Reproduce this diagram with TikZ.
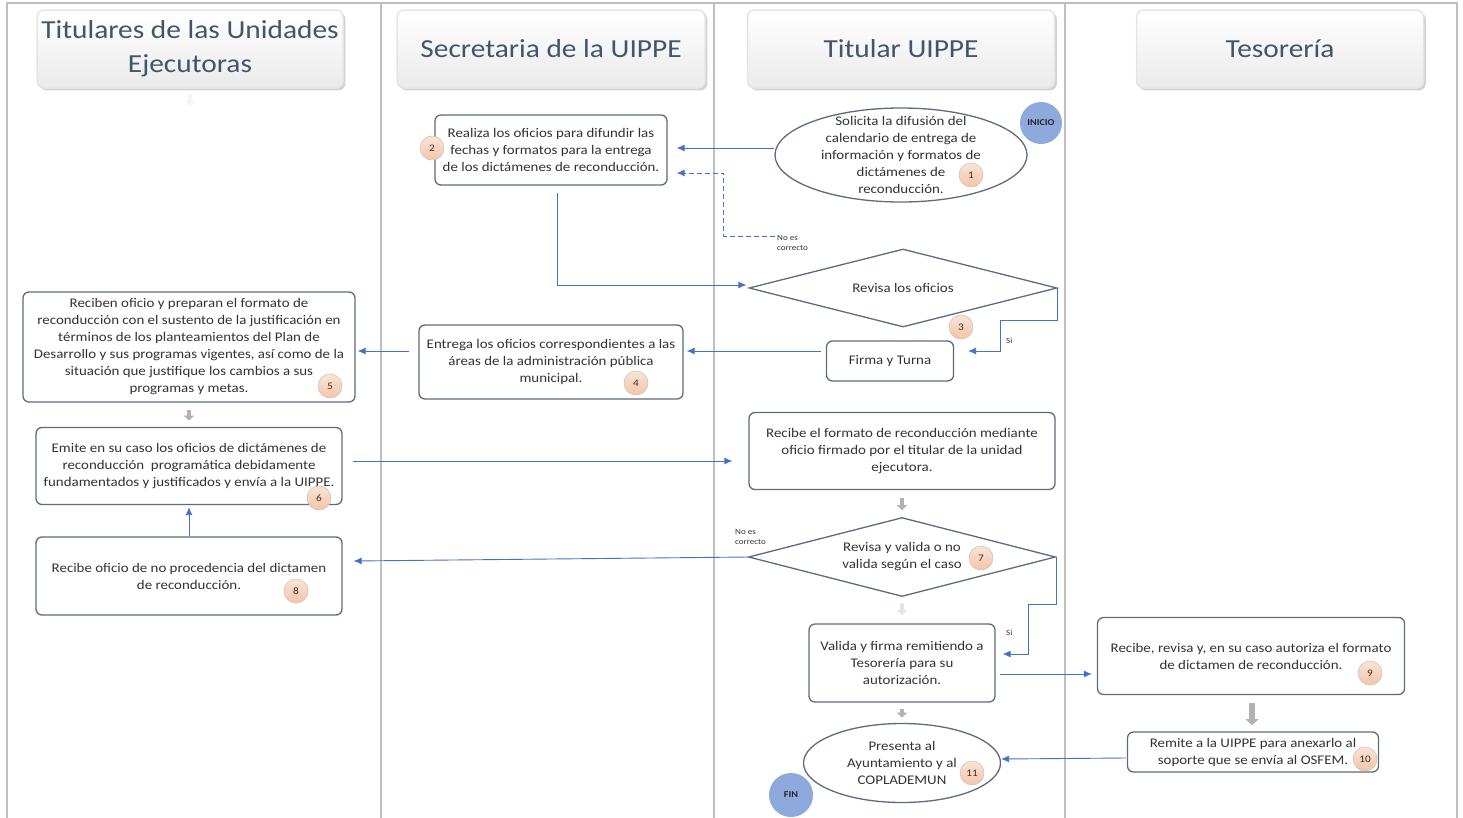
\documentclass[tikz,border=0pt]{standalone}
\usepackage{fontspec}
\setmainfont{Carlito}[FakeStretch=1.13]
\usetikzlibrary{shapes.geometric,arrows.meta,shadows}

\definecolor{flowblue}{HTML}{4472C4}
\definecolor{boxline}{HTML}{5F6B7C}
\definecolor{headtext}{HTML}{44546A}
\definecolor{bodytext}{HTML}{333333}
\definecolor{numfill}{HTML}{F6C3A6}
\definecolor{startfill}{HTML}{8EA9DB}
\definecolor{lanegray}{HTML}{BFBFBF}

\tikzset{
  lanehead/.style={draw=gray!20, line width=1.5pt, rounded corners=7pt, top color=white, bottom color=gray!16,
    text=headtext, font=\fontsize{26}{34}\selectfont, align=center, drop shadow={opacity=0.35}},
  stepbox/.style={draw=boxline, line width=1.3pt, rounded corners=6pt, fill=white, text=bodytext,
    font=\fontsize{13.2}{17}\selectfont, align=center, inner sep=1pt},
  steptext/.style={text=bodytext, font=\fontsize{13.2}{17}\selectfont, align=center, inner sep=0pt},
  decision/.style={diamond, draw=boxline, line width=1.3pt, fill=white, aspect=4, inner sep=0pt, text=bodytext,
    font=\fontsize{13.2}{17}\selectfont, align=center},
  endpoint/.style={ellipse, draw=boxline, line width=1.3pt, fill=white, inner sep=0pt},
  stepnum/.style={circle, minimum size=24pt, inner sep=0pt, draw=gray!45, line width=0.6pt,
    top color=numfill!45!white, bottom color=numfill, text=black!80, font=\fontsize{10}{10}\selectfont},
  terminal/.style={circle, fill=startfill, inner sep=0pt, text=black!85, font=\fontsize{9}{9}\selectfont\bfseries},
  flow/.style={flowblue, line width=0.9pt, -{Latex[length=8pt,width=7pt]}},
  flowdash/.style={flow, dash pattern=on 5pt off 3pt},
  tinylabel/.style={text=black!80, font=\fontsize{8}{10}\selectfont, align=left, inner sep=0pt},
  grayarrow/.style={line width=4pt, -{Triangle[length=5pt,width=10pt]}}
}

\begin{document}
\begin{tikzpicture}[x=1pt,y=-1pt]
\useasboundingbox[fill=white] (0,0) rectangle (1463,817);

\draw[lanegray, line width=2pt] (7,830) -- (7,3) -- (1457,3) -- (1457,830);
\draw[lanegray, line width=2pt] (381,3) -- (381,830);
\draw[lanegray, line width=2pt] (714,3) -- (714,830);
\draw[lanegray, line width=2pt] (1065,3) -- (1065,830);

\node[lanehead, minimum width=306pt, minimum height=78pt] (titulares) at (190,49) {Titulares de las Unidades\\Ejecutoras};
\node[lanehead, minimum width=308pt, minimum height=78pt] (secretaria) at (551,49) {Secretaria de la UIPPE};
\node[lanehead, minimum width=307pt, minimum height=78pt] (titular) at (901,49) {Titular UIPPE};
\node[lanehead, minimum width=287pt, minimum height=78pt] (tesoreria) at (1280,49) {Tesorería};

\node[endpoint, minimum width=252pt, minimum height=94pt,
  label={[steptext]center:Solicita la difusión del\\calendario de entrega de\\información y formatos de\\dictámenes de\\reconducción.}] (solicita) at (901,155) {};
\node[terminal, minimum size=42pt] (inicio) at (1041,123) {INICIO};
\node[stepbox, minimum width=232pt, minimum height=70pt] (oficios) at (551,150) {Realiza los oficios para difundir las\\fechas y formatos para la entrega\\de los dictámenes de reconducción.};
\node[decision, minimum width=308pt, minimum height=78pt] (revisa) at (903,288) {Revisa los oficios};
\node[stepbox, minimum width=127pt, minimum height=40pt] (firma) at (890,361) {Firma y Turna};
\node[stepbox, minimum width=264pt, minimum height=74pt] (entrega) at (551,362) {Entrega los oficios correspondientes a las\\áreas de la administración pública\\municipal.};
\node[stepbox, minimum width=332pt, minimum height=110pt] (reciben) at (189,347) {Reciben oficio y preparan el formato de\\reconducción con el sustento de la justificación en\\términos de los planteamientos del Plan de\\Desarrollo y sus programas vigentes, así como de la\\situación que justifique los cambios a sus\\programas y metas.};
\node[stepbox, minimum width=306pt, minimum height=77pt] (emite) at (189,466) {Emite en su caso los oficios de dictámenes de\\reconducción\ \ programática debidamente\\fundamentados y justificados y envía a la UIPPE.};
\node[stepbox, minimum width=306pt, minimum height=77pt] (recibeformato) at (902,451) {Recibe el formato de reconducción mediante\\oficio firmado por el titular de la unidad\\ejecutora.};
\node[decision, minimum width=307pt, minimum height=79pt] (valida) at (902,557) {Revisa y valida o no\\valida según el caso};
\node[stepbox, minimum width=306pt, minimum height=78pt] (noprocede) at (189,576) {Recibe oficio de no procedencia del dictamen\\de reconducción.};
\node[stepbox, minimum width=186pt, minimum height=78pt] (validafirma) at (902,663) {Valida y firma remitiendo a\\Tesorería para su\\autorización.};
\node[stepbox, minimum width=307pt, minimum height=77pt] (autoriza) at (1251,656) {Recibe, revisa y, en su caso autoriza el formato\\de dictamen de reconducción.};
\node[stepbox, minimum width=251pt, minimum height=40pt] (remite) at (1253,752) {Remite a la UIPPE para anexarlo al\\soporte que se envía al OSFEM.};
\node[endpoint, minimum width=197pt, minimum height=79pt,
  label={[steptext]center:Presenta al\\Ayuntamiento y al\\COPLADEMUN}] (presenta) at (902,763) {};
\node[terminal, minimum size=44pt] (fin) at (791,795) {FIN};

\node[stepnum] (n1) at (971,175) {1};
\node[stepnum] (n2) at (432,148) {2};
\node[stepnum] (n3) at (961,327) {3};
\node[stepnum] (n4) at (636,383) {4};
\node[stepnum] (n5) at (330,386) {5};
\node[stepnum] (n6) at (319,498) {6};
\node[stepnum] (n7) at (981,558) {7};
\node[stepnum] (n8) at (296,591) {8};
\node[stepnum] (n9) at (1370,673) {9};
\node[stepnum] (n10) at (1365,759) {10};
\node[stepnum] (n11) at (972,773) {11};

\draw[gray!8, grayarrow] ([shift={(0,5)}]titulares.south) -- ([shift={(0,17)}]titulares.south);
\draw[gray!60, grayarrow] ([shift={(0,7)}]reciben.south) -- ([shift={(0,18)}]reciben.south);
\draw[gray!60, grayarrow] ([shift={(0,8)}]recibeformato.south) -- ([shift={(0,20)}]recibeformato.south);
\draw[gray!20, grayarrow] ([shift={(0,6)}]valida.south) -- ([shift={(0,18)}]valida.south);
\draw[gray!60, grayarrow] ([shift={(0,6)}]validafirma.south) -- ([shift={(0,15)}]validafirma.south);
\draw[gray!60, line width=6pt, -{Triangle[length=6pt,width=13pt]}] ([shift={(1,8)}]autoriza.south) -- ([shift={(1,30)}]autoriza.south);

\coordinate (noes1) at (775,236);
\draw[flow] ([shift={(0,-7)}]solicita.west) -- ([shift={(9,-2)}]oficios.east);
\draw[flowdash] (noes1) -| ([shift={(56,23)}]oficios.east) -- ([shift={(9,23)}]oficios.east);
\node[tinylabel, anchor=west] (noeslabel1) at (777,243) {No es\\correcto};
\draw[flow] ([shift={(6,7)}]oficios.south) |- ([shift={(-2,-3)}]revisa.west);
\draw[flow] (revisa.east) |- ([shift={(46,-41)}]firma.east) -- ([shift={(46,-10)}]firma.east) -- ([shift={(14,-10)}]firma.east);
\node[tinylabel, anchor=west] (silabel1) at (1006,341) {Si};
\draw[flow] ([shift={(-5,-10)}]firma.west) -- ([shift={(3,-11)}]entrega.east);
\draw[flow] ([shift={(-9,-11)}]entrega.west) -- ([shift={(2,4)}]reciben.east);
\draw[flow] ([shift={(10,-5)}]emite.east) -- ([shift={(-16,10)}]recibeformato.west);
\draw[flow] (valida.west) -- ([shift={(11,-15)}]noprocede.east);
\node[tinylabel, anchor=west] (noeslabel2) at (735,537) {No es\\correcto};
\draw[flow] (noprocede.north) -- ([shift={(0,2)}]emite.south);
\draw[flow] (valida.east) |- ([shift={(33,-59)}]validafirma.east) -- ([shift={(33,-9)}]validafirma.east) -- ([shift={(7,-9)}]validafirma.east);
\node[tinylabel, anchor=west] (silabel2) at (1006,633) {Si};
\draw[flow] ([shift={(4,11)}]validafirma.east) -- ([shift={(-5,18)}]autoriza.west);
\draw[flow] ([shift={(-1,6)}]remite.west) -- ([shift={(0,-4)}]presenta.east);
\end{tikzpicture}
\end{document}
